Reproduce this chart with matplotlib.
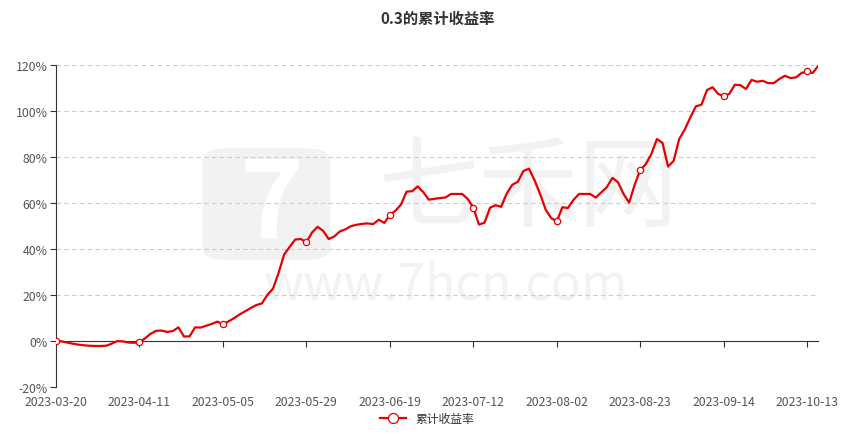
import matplotlib
matplotlib.use("Agg")
import matplotlib.pyplot as plt
from matplotlib.patches import FancyBboxPatch
import numpy as np

plt.rcParams['font.family'] = ['Noto Sans CJK SC', 'DejaVu Sans']

# cumulative return (%) per trading day
returns = [
    0.0, -0.3, -0.8, -1.3, -1.7, -2.0, -2.2, -2.3, -2.3, -2.2,
    -1.3, -0.2, -0.3, -0.8, -0.9, -0.6, 1.0, 3.0, 4.3, 4.4,
    3.8, 4.2, 5.8, 1.8, 1.9, 5.8, 5.7, 6.5, 7.3, 8.3,
    7.1, 8.4, 9.8, 11.4, 12.8, 14.2, 15.5, 16.2, 20.0, 22.6,
    29.5, 37.5, 40.8, 44.0, 44.2, 42.8, 47.0, 49.5, 47.8, 44.2,
    45.3, 47.5, 48.4, 49.8, 50.4, 50.8, 51.0, 50.7, 52.6, 51.2,
    54.7, 56.5, 59.2, 64.8, 65.0, 67.1, 64.6, 61.3, 61.7, 62.0,
    62.3, 63.8, 63.8, 63.8, 61.6, 57.9, 50.5, 51.3, 57.8, 58.9,
    58.2, 64.0, 67.8, 69.1, 73.8, 74.8, 69.8, 63.8, 57.0, 53.3,
    51.9, 58.0, 57.7, 61.2, 63.8, 63.8, 63.8, 62.2, 64.5, 66.8,
    70.8, 68.9, 63.8, 60.0, 67.8, 74.3, 76.8, 81.2, 87.7, 86.0,
    75.7, 78.2, 87.7, 91.8, 97.1, 101.9, 102.6, 109.0, 110.2, 107.3,
    106.3, 107.3, 111.3, 111.1, 109.4, 113.4, 112.6, 113.0, 112.0, 112.0,
    113.8, 115.2, 114.2, 114.5, 116.4, 117.1, 116.4, 119.6,
]
tick_labels = ['2023-03-20', '2023-04-11', '2023-05-05', '2023-05-29', '2023-06-19',
               '2023-07-12', '2023-08-02', '2023-08-23', '2023-09-14', '2023-10-13']
label_step = 15
y_ticks = [-20, 0, 20, 40, 60, 80, 100, 120]

x = np.arange(len(returns))

fig = plt.figure(figsize=(8.54, 4.39), dpi=100)
ax = fig.add_axes([0.0656, 0.1169, 0.8926, 0.7334])
ax.set_zorder(2)
ax.patch.set_alpha(0)

# faint watermark behind the plot
wm = '#f2f2f2'
fig.patches.append(FancyBboxPatch((0.237, 0.405), 0.15, 0.255, transform=fig.transFigure,
                                  boxstyle='round,pad=0,rounding_size=0.03',
                                  fc=wm, ec='none', zorder=0))
fig.text(0.318, 0.525, '7', ha='center', va='center', fontsize=78, fontweight='bold',
         style='italic', color='white', zorder=1)
fig.text(0.618, 0.567, '七禾网', ha='center', va='center', fontsize=72,
         color=wm, zorder=0)
fig.text(0.522, 0.35, 'www.7hcn.com', ha='center', va='center', fontsize=36,
         color=wm, zorder=0)

for y in y_ticks:
    if y != 0:
        ax.axhline(y, color='#cccccc', lw=0.8, ls=(0, (4, 3)), zorder=1)

ax.plot(x, returns, color='#e60000', lw=1.6, zorder=3,
        marker='o', markevery=label_step, markersize=4.5,
        markerfacecolor='white', markeredgecolor='#e60000', markeredgewidth=0.9,
        label='累计收益率')

ax.set_xlim(0, len(returns) - 1)
ax.set_ylim(-20, 120)
ax.set_yticks(y_ticks)
ax.set_yticklabels([f'{v}%' for v in y_ticks])
ax.set_xticks(x[::label_step][:len(tick_labels)])
ax.set_xticklabels(tick_labels)

ax.spines['top'].set_visible(False)
ax.spines['right'].set_visible(False)
ax.spines['left'].set_color('#333333')
ax.spines['bottom'].set_color('#333333')
ax.spines['bottom'].set_position(('data', 0))
ax.tick_params(axis='y', colors='#333333', labelcolor='#555555', labelsize=8.8,
               length=4, width=0.8, pad=2)
ax.tick_params(axis='x', colors='#333333', labelcolor='#555555', labelsize=8.8,
               length=4, width=0.8, pad=35)

ax.set_title('0.3的累计收益率', fontsize=11, fontweight='bold', color='#333333', pad=30)

leg = fig.legend(loc='lower center', bbox_to_anchor=(0.5, 0.005), frameon=False,
                 fontsize=8.5, handlelength=2.2, markerscale=1.6)
for t in leg.get_texts():
    t.set_color('#333333')

fig.savefig('out.png', dpi=100)
